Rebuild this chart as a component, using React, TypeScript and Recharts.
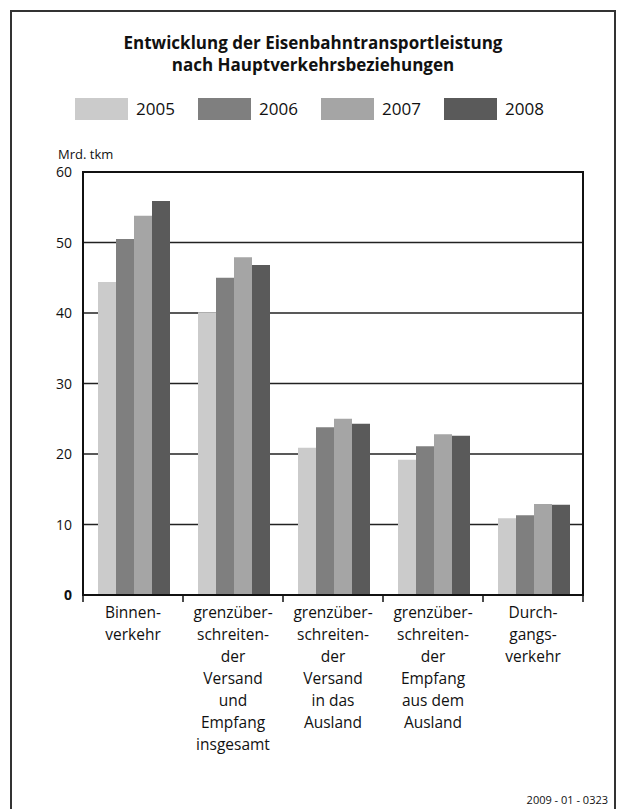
import { BarChart, Bar, XAxis, YAxis, CartesianGrid, ReferenceArea } from 'recharts'

const categories = [
  'Binnen-\nverkehr',
  'grenzüber-\nschreiten-\nder\nVersand\nund\nEmpfang\ninsgesamt',
  'grenzüber-\nschreiten-\nder\nVersand\nin das\nAusland',
  'grenzüber-\nschreiten-\nder\nEmpfang\naus dem\nAusland',
  'Durch-\ngangs-\nverkehr',
]
const years = ['2005', '2006', '2007', '2008']
const v2005 = [44.4, 40.1, 20.9, 19.2, 10.9]
const v2006 = [50.5, 45.0, 23.8, 21.1, 11.3]
const v2007 = [53.8, 47.9, 25.0, 22.8, 12.9]
const v2008 = [55.9, 46.8, 24.3, 22.6, 12.8]
const yTicks = [0, 10, 20, 30, 40, 50, 60]

const colors: Record<string, string> = {
  '2005': '#cbcbcb',
  '2006': '#7f7f7f',
  '2007': '#a5a5a5',
  '2008': '#5a5a5a',
}

const data = categories.map((name, i) => ({
  name,
  '2005': v2005[i],
  '2006': v2006[i],
  '2007': v2007[i],
  '2008': v2008[i],
}))

const FONT = '"Open Sans", "Noto Sans", sans-serif'
const W = 617
const H = 809
const PLOT_LEFT = 83
const PLOT_RIGHT = 583
const BAND = (PLOT_RIGHT - PLOT_LEFT) / categories.length

function CategoryTick(props: any) {
  const { x, y, payload, index } = props
  const lines = String(payload.value).split('\n')
  const left = x - BAND / 2
  return (
    <g>
      <line x1={left} y1={y - 8} x2={left} y2={y - 1} stroke="#111" strokeWidth={1.5} />
      {index === categories.length - 1 && (
        <line x1={left + BAND} y1={y - 8} x2={left + BAND} y2={y - 1} stroke="#111" strokeWidth={1.5} />
      )}
      <text x={x} y={y + 15} textAnchor="middle" fontSize={15.5} fill="#111" fontFamily={FONT}>
        {lines.map((l, i) => (
          <tspan key={i} x={x} dy={i === 0 ? 0 : 22}>
            {l}
          </tspan>
        ))}
      </text>
    </g>
  )
}

function ValueTick(props: any) {
  const { x, y, payload } = props
  return (
    <text
      x={x}
      y={y}
      dy={5}
      textAnchor="end"
      fontSize={14}
      fontWeight={payload.value === 0 ? 700 : 400}
      fill="#111"
      fontFamily={FONT}
    >
      {payload.value}
    </text>
  )
}

export default function App() {
  return (
    <div
      style={{
        position: 'absolute',
        left: 0,
        top: 0,
        width: W,
        height: H,
        overflow: 'hidden',
        background: '#fff',
        fontFamily: FONT,
        color: '#111',
      }}
    >
      {/* outer frame, bottom edge runs off the page like in the source */}
      <div
        style={{
          position: 'absolute',
          left: 10,
          top: 10,
          width: 606,
          height: 820,
          border: '2px solid #333',
          boxSizing: 'border-box',
        }}
      />

      <div style={{ position: 'absolute', left: 0, top: 0 }}>
        <BarChart
          width={W}
          height={H}
          data={data}
          margin={{ top: 172, right: 34, bottom: 14, left: 20 }}
          barCategoryGap="15%"
          barGap={0}
        >
          <CartesianGrid vertical={false} stroke="#222" strokeWidth={1.5} />
          <XAxis
            dataKey="name"
            interval={0}
            height={200}
            tickLine={false}
            axisLine={{ stroke: '#111', strokeWidth: 2 }}
            tick={<CategoryTick />}
          />
          <YAxis
            width={63}
            domain={[0, 60]}
            ticks={yTicks}
            tickLine={false}
            tickMargin={5}
            axisLine={{ stroke: '#111', strokeWidth: 2 }}
            tick={<ValueTick />}
          />
          {years.map((yr) => (
            <Bar key={yr} dataKey={yr} fill={colors[yr]} isAnimationActive={false} />
          ))}
          <ReferenceArea
            x1={categories[0]}
            x2={categories[categories.length - 1]}
            y1={0}
            y2={60}
            fill="none"
            stroke="#111"
            strokeWidth={2}
            ifOverflow="visible"
          />
        </BarChart>
      </div>

      <div
        style={{
          position: 'absolute',
          left: 10,
          width: 606,
          top: 32,
          textAlign: 'center',
          fontWeight: 700,
          fontSize: 17,
          lineHeight: '22px',
        }}
      >
        Entwicklung der Eisenbahntransportleistung
        <br />
        nach Hauptverkehrsbeziehungen
      </div>

      {years.map((yr, i) => (
        <div
          key={yr}
          style={{ position: 'absolute', left: 75 + i * 123, top: 97, display: 'flex', alignItems: 'center' }}
        >
          <div style={{ width: 53, height: 22, background: colors[yr] }} />
          <span style={{ marginLeft: 8, fontSize: 17 }}>{yr}</span>
        </div>
      ))}

      <div style={{ position: 'absolute', left: 58, top: 145, fontSize: 13 }}>Mrd. tkm</div>

      <div style={{ position: 'absolute', right: 9, top: 792, fontSize: 11 }}>2009 - 01 - 0323</div>
    </div>
  )
}
